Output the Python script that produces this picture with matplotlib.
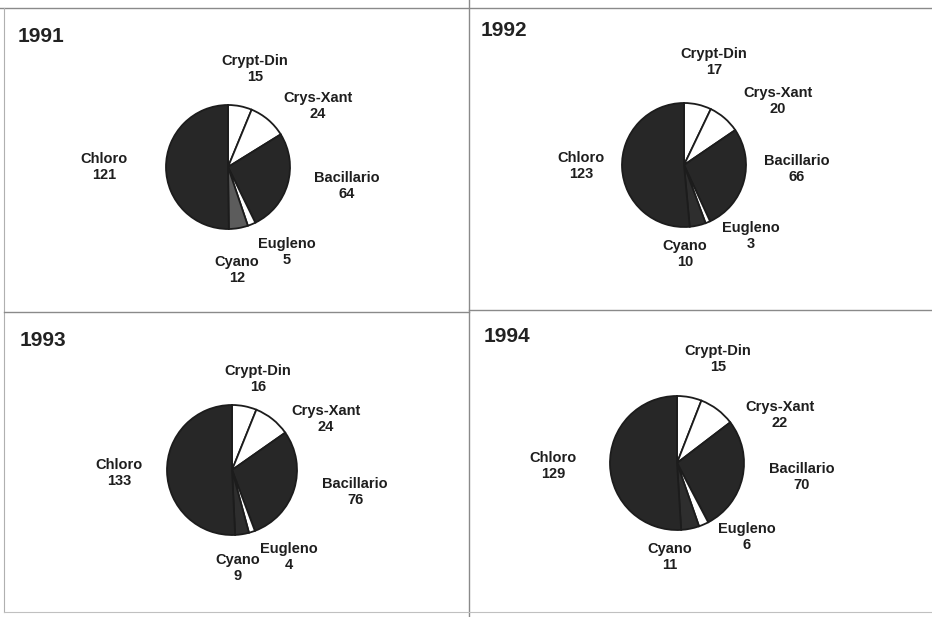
import matplotlib.pyplot as plt

plt.rcParams['font.family'] = ['Liberation Sans', 'DejaVu Sans']

# 数据
years = ["1991", "1992", "1993", "1994"]
categories = ["Crypt-Din", "Crys-Xant", "Bacillario", "Eugleno", "Cyano", "Chloro"]
counts_1991 = [15, 24, 64, 5, 12, 121]
counts_1992 = [17, 20, 66, 3, 10, 123]
counts_1993 = [16, 24, 76, 4, 9, 133]
counts_1994 = [15, 22, 70, 6, 11, 129]
all_counts = [counts_1991, counts_1992, counts_1993, counts_1994]

W, H = 932, 617
DARK = "#272727"
slice_colors = {
    "1991": ["white", "white", DARK, "white", "#5c5c5c", DARK],
    "1992": ["white", "white", DARK, "white", "#2e2e2e", DARK],
    "1993": ["white", "white", DARK, "white", "#2e2e2e", DARK],
    "1994": ["white", "white", DARK, "white", "#2e2e2e", DARK],
}

# 每个面板：饼图中心、半径（像素，y 向下），标题位置，各标签位置（与 categories 同序）
layout = {
    "1991": dict(center=(228, 167), r=62, title=(18, 36),
                 labels=[(255, 69), (318, 106), (347, 186), (287, 252), (237, 270), (104, 167)]),
    "1992": dict(center=(684, 165), r=62, title=(481, 31),
                 labels=[(714, 62), (778, 101), (797, 169), (751, 236), (685, 254), (581, 166)]),
    "1993": dict(center=(232, 470), r=65, title=(20, 340),
                 labels=[(258, 379), (326, 419), (355, 492), (289, 557), (238, 568), (119, 473)]),
    "1994": dict(center=(677, 463), r=67, title=(484, 337),
                 labels=[(718, 359), (780, 415), (802, 477), (747, 537), (670, 557), (553, 466)]),
}

fig = plt.figure(figsize=(W / 100, H / 100), dpi=100)
ax = fig.add_axes([0, 0, 1, 1])

for year, counts in zip(years, all_counts):
    cfg = layout[year]
    cx, cy = cfg["center"]
    ax.pie(counts, colors=slice_colors[year], startangle=90, counterclock=False,
           center=(cx, H - cy), radius=cfg["r"],
           wedgeprops=dict(edgecolor="#1c1c1c", linewidth=1.3))
    tx, ty = cfg["title"]
    ax.text(tx, H - ty, year, fontsize=15, fontweight="bold", color="#222222",
            ha="left", va="center")
    for name, val, (lx, ly) in zip(categories, counts, cfg["labels"]):
        ax.text(lx, H - ly, f"{name}\n{val}", fontsize=10.5, fontweight="bold",
                color="#1e1e1e", ha="center", va="center", linespacing=1.25)

# 面板边框
line_kw = dict(color="#8a8a8a", linewidth=1.0)
ax.plot([0, W], [H - 8, H - 8], **line_kw)
ax.plot([4, 4], [H - 8, H - 612], color="#b0b0b0", linewidth=0.8)
ax.plot([469, 469], [H - 0, H - 617], **line_kw)
ax.plot([4, 469], [H - 312, H - 312], **line_kw)
ax.plot([469, W], [H - 310, H - 310], **line_kw)
ax.plot([4, W], [H - 612, H - 612], color="#c0c0c0", linewidth=0.8)

ax.set_xlim(0, W)
ax.set_ylim(0, H)
ax.set_aspect("equal")
ax.axis("off")

fig.savefig("out.png", dpi=100)
